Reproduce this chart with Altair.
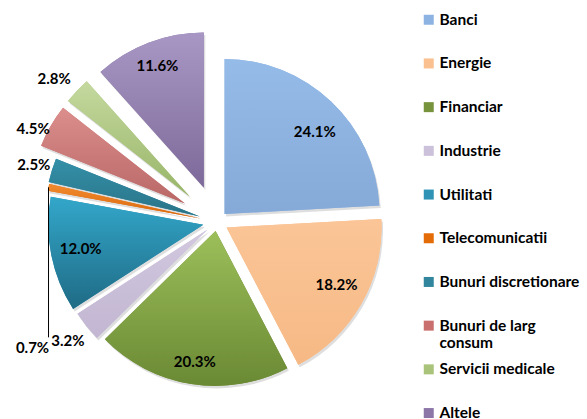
import altair as alt
import pandas as pd

# ---- data ----
sectors = ["Banci", "Energie", "Financiar", "Industrie", "Utilitati", "Telecomunicatii",
           "Bunuri discretionare", "Bunuri de larg consum", "Servicii medicale", "Altele"]
values = [24.1, 18.2, 20.3, 3.2, 12.0, 0.7, 2.5, 4.5, 2.8, 11.6]

# ---- styles ----
legend_colors = ["#8db3e2", "#fac08f", "#77933c", "#ccc1da", "#2f93b5", "#e36c09",
                 "#31859c", "#c9706e", "#a9c47a", "#8c76a8"]
grad_top = ["#95bbe8", "#fbc597", "#9dbf5a", "#d2c8df", "#33a7ca", "#f28a2e",
            "#3390a8", "#db8e8c", "#c5d99f", "#a897c4"]
grad_bottom = ["#86aad8", "#f6b985", "#6a8934", "#c2b6d2", "#1f6b85", "#d8660b",
               "#2a7388", "#b96866", "#98b568", "#7e6a9a"]
explode = [11, 11, 9, 12, 14, 17, 18, 37, 37, 37]
label_r = [122, 124, 133, 179, 125, 0, 174, 169, 180, 130]
label_da = [4.3, -2.1, 0, 0, 0, 0, 0, -4, -2.2, 0]   # degrees
leader_len = [0, 0, 0, 0, 0, 150, 0, 0, 0, 0]

CX, CY, R = 217, 222, 155
FONT = "Lato"

df = pd.DataFrame({
    "sector": sectors,
    "value": values,
    "order": list(range(len(sectors))),
    "explode": explode,
    "label_r": label_r,
    "label_da": label_da,
    "leader": leader_len,
})

base = (
    alt.Chart(df)
    .transform_joinaggregate(total="sum(value)")
    .transform_window(cum="sum(value)", sort=[alt.SortField("order")], frame=[None, 0])
    .transform_calculate(
        t0="2*PI*(datum.cum - datum.value)/datum.total",
        t1="2*PI*datum.cum/datum.total",
    )
    .transform_calculate(tm="(datum.t0 + datum.t1)/2")
    .transform_calculate(
        cx=f"{CX} + datum.explode*sin(datum.tm)",
        cy=f"{CY} - datum.explode*cos(datum.tm)",
        tl="datum.tm + datum.label_da*PI/180",
    )
    .transform_calculate(
        sx=f"datum.cx + {R}*sin(datum.tm)",
        sy=f"datum.cy - {R}*cos(datum.tm)",
    )
    .transform_calculate(
        ey="datum.sy + datum.leader",
    )
    .transform_calculate(
        lx="datum.leader > 0 ? datum.sx - 16 : datum.cx + datum.label_r*sin(datum.tl)",
        ly="datum.leader > 0 ? datum.ey + 11 : datum.cy - datum.label_r*cos(datum.tl)",
        label="format(datum.value, '.1f') + '%'",
    )
)

shadow = base.mark_arc(radius=R, fill="#000000", opacity=0.13).encode(
    x=alt.X("sxh:Q", scale=None),
    y=alt.Y("syh:Q", scale=None),
    theta=alt.Theta("t0:Q", scale=None),
    theta2="t1:Q",
).transform_calculate(sxh="datum.cx + 1.5", syh="datum.cy + 2.5")

arcs = base.mark_arc(radius=R).encode(
    x=alt.X("cx:Q", scale=None),
    y=alt.Y("cy:Q", scale=None),
    theta=alt.Theta("t0:Q", scale=None),
    theta2="t1:Q",
    color=alt.Color(
        "sector:N",
        scale=alt.Scale(domain=sectors, range=legend_colors),
        sort=sectors,
        legend=alt.Legend(
            orient="none", legendX=421, legendY=12, title=None,
            symbolType="square", symbolSize=100, symbolStrokeWidth=0,
            labelFont=FONT, labelFontWeight="bold", labelFontSize=15.5,
            labelColor="#000000", labelOffset=3, rowPadding=9.7,
            labelLimit=200, gridAlign="all",
            labelExpr="datum.label == 'Bunuri de larg consum' ? ['Bunuri de larg', 'consum'] : datum.label",
        ),
    ),
)

# per-slice vertical gradient on top
w = None
for s, t, b in zip(sectors, grad_top, grad_bottom):
    grad = {"gradient": "linear", "x1": 0, "y1": 0, "x2": 0, "y2": 1,
            "stops": [{"offset": 0, "color": t}, {"offset": 1, "color": b}]}
    w = alt.when(sector=s).then(alt.value(grad)) if w is None else w.when(sector=s).then(alt.value(grad))
fill_cond = w.otherwise(alt.value("#cccccc"))

grads = base.mark_arc(radius=R).encode(
    x=alt.X("cx:Q", scale=None),
    y=alt.Y("cy:Q", scale=None),
    theta=alt.Theta("t0:Q", scale=None),
    theta2="t1:Q",
    fill=fill_cond,
)

leader = base.transform_filter("datum.leader > 0").mark_rule(color="#000000", strokeWidth=1).encode(
    x=alt.X("sx:Q", scale=None),
    y=alt.Y("sy:Q", scale=None),
    y2="ey:Q",
)

labels = base.mark_text(font=FONT, fontWeight="bold", fontSize=15, color="#000000").encode(
    x=alt.X("lx:Q", scale=None),
    y=alt.Y("ly:Q", scale=None),
    text="label:N",
)

chart = (
    alt.layer(shadow, arcs, grads, leader, labels)
    .properties(width=587, height=419, autosize="none", padding=0)
    .configure_view(stroke=None)
)

chart.save("out.html", embed_options={"renderer": "svg", "actions": False})
